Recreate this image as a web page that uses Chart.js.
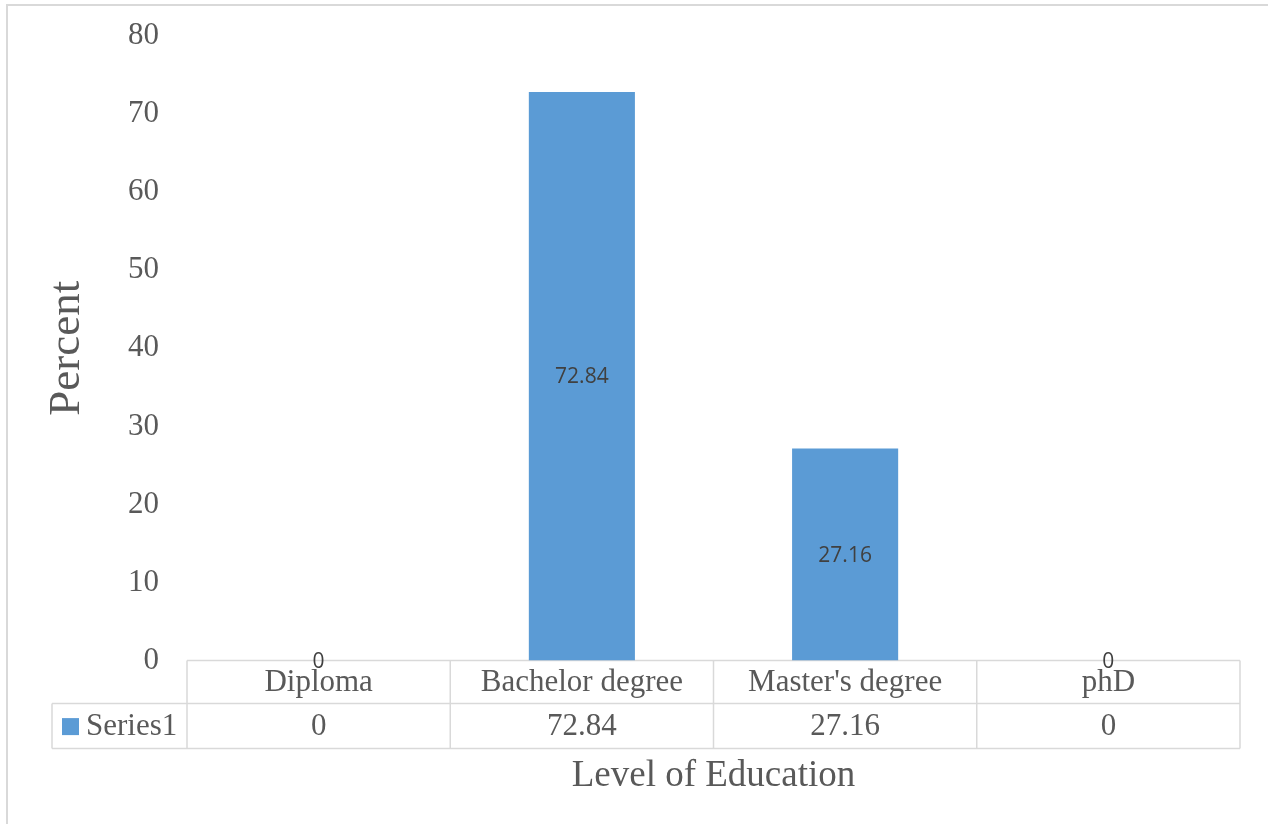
<!DOCTYPE html>
<html>
<head>
<meta charset="utf-8">
<script src="https://cdn.jsdelivr.net/npm/chart.js@4"></script>
<style>
  html, body { margin: 0; padding: 0; background: #fff; }
  canvas { display: block; }
</style>
</head>
<body>
<canvas id="chart" width="1268" height="824"></canvas>
<script>
// Share of respondents by level of education
const categories = ['Diploma', 'Bachelor degree', "Master's degree", 'phD'];
const seriesName = 'Series1';
const percentValues = [0, 72.84, 27.16, 0];
const yTickMin = 0;
const yTickMax = 80;
const yTickStep = 10;
const yAxisTitle = 'Percent';
const xAxisTitle = 'Level of Education';

const SERIF = "'Liberation Serif', 'Times New Roman', serif";
const SANS = "'Open Sans', 'Noto Sans', sans-serif";
const TEXT_COLOR = '#595959';
const RULE_COLOR = '#d9d9d9';
const BAR_COLOR = '#5b9bd5';

// Light frame around the chart (left and top edges)
const framePlugin = {
  id: 'frame',
  beforeDraw(chart) {
    const { ctx } = chart;
    ctx.save();
    ctx.strokeStyle = RULE_COLOR;
    ctx.lineWidth = 2;
    ctx.beginPath();
    ctx.moveTo(7, chart.height);
    ctx.lineTo(7, 5);
    ctx.lineTo(chart.width, 5);
    ctx.stroke();
    ctx.restore();
  }
};

// Data table under the plot: category row, then the series row with its key
const dataTablePlugin = {
  id: 'dataTable',
  beforeDatasetsDraw(chart) {
    const { ctx, chartArea, scales } = chart;
    const x = scales.x;
    const half = (x.getPixelForValue(1) - x.getPixelForValue(0)) / 2;
    const edges = categories.map((_, i) => x.getPixelForValue(i) - half);
    edges.push(x.getPixelForValue(categories.length - 1) + half);
    const left = edges[0];
    const right = edges[edges.length - 1];
    const r0 = chartArea.bottom;
    const r1 = r0 + 43;
    const r2 = r0 + 88;
    const keyLeft = 52;

    ctx.save();
    ctx.strokeStyle = RULE_COLOR;
    ctx.lineWidth = 1.5;
    ctx.beginPath();
    ctx.moveTo(left, r0); ctx.lineTo(right, r0);
    ctx.moveTo(keyLeft, r1); ctx.lineTo(right, r1);
    ctx.moveTo(keyLeft, r2); ctx.lineTo(right, r2);
    ctx.moveTo(keyLeft, r1); ctx.lineTo(keyLeft, r2);
    edges.forEach(e => { ctx.moveTo(e, r0); ctx.lineTo(e, r2); });
    ctx.stroke();

    ctx.fillStyle = TEXT_COLOR;
    ctx.font = '31px ' + SERIF;
    ctx.textAlign = 'center';
    ctx.textBaseline = 'middle';
    categories.forEach((c, i) => {
      const cx = x.getPixelForValue(i);
      ctx.fillText(c, cx, (r0 + r1) / 2 + 1);
      ctx.fillText(String(percentValues[i]), cx, (r1 + r2) / 2 + 1);
    });

    // series key
    ctx.fillStyle = BAR_COLOR;
    ctx.fillRect(62, (r1 + r2) / 2 - 8, 17, 17);
    ctx.fillStyle = TEXT_COLOR;
    ctx.textAlign = 'left';
    ctx.fillText(seriesName, 86, (r1 + r2) / 2 + 1);
    ctx.restore();
  }
};

// Value labels centred in each bar
const barLabelPlugin = {
  id: 'barLabels',
  afterDatasetsDraw(chart) {
    const { ctx } = chart;
    const meta = chart.getDatasetMeta(0);
    ctx.save();
    ctx.fillStyle = '#404040';
    ctx.font = '21px ' + SANS;
    ctx.textAlign = 'center';
    ctx.textBaseline = 'middle';
    meta.data.forEach((bar, i) => {
      ctx.fillText(String(percentValues[i]), bar.x, (bar.y + bar.base) / 2 + 1);
    });
    ctx.restore();
  }
};

new Chart(document.getElementById('chart'), {
  type: 'bar',
  data: {
    labels: categories,
    datasets: [{
      label: seriesName,
      data: percentValues,
      backgroundColor: BAR_COLOR,
      borderWidth: 0,
      categoryPercentage: 1,
      barPercentage: 0.403
    }]
  },
  options: {
    responsive: false,
    animation: false,
    layout: { padding: { top: 36, right: 28, bottom: 0, left: 0 } },
    plugins: {
      legend: { display: false },
      tooltip: { enabled: false }
    },
    scales: {
      x: {
        grid: { display: false, drawTicks: false },
        border: { display: false },
        ticks: { display: false },
        title: {
          display: true,
          text: xAxisTitle,
          color: TEXT_COLOR,
          font: { family: SERIF, size: 37 },
          padding: { top: 93, bottom: 26 }
        }
      },
      y: {
        min: yTickMin,
        max: yTickMax,
        grid: { display: false, drawTicks: false },
        border: { display: false },
        ticks: {
          stepSize: yTickStep,
          padding: 28,
          color: TEXT_COLOR,
          font: { family: SERIF, size: 31 }
        },
        title: {
          display: true,
          text: yAxisTitle,
          color: TEXT_COLOR,
          font: { family: SERIF, size: 45 },
          padding: { top: 40, bottom: 0 }
        },
        afterFit(scale) {
          scale.width = 187;
          scale.paddingTop = 0;
          scale.paddingBottom = 0;
        }
      }
    }
  },
  plugins: [framePlugin, dataTablePlugin, barLabelPlugin]
});
</script>
</body>
</html>
